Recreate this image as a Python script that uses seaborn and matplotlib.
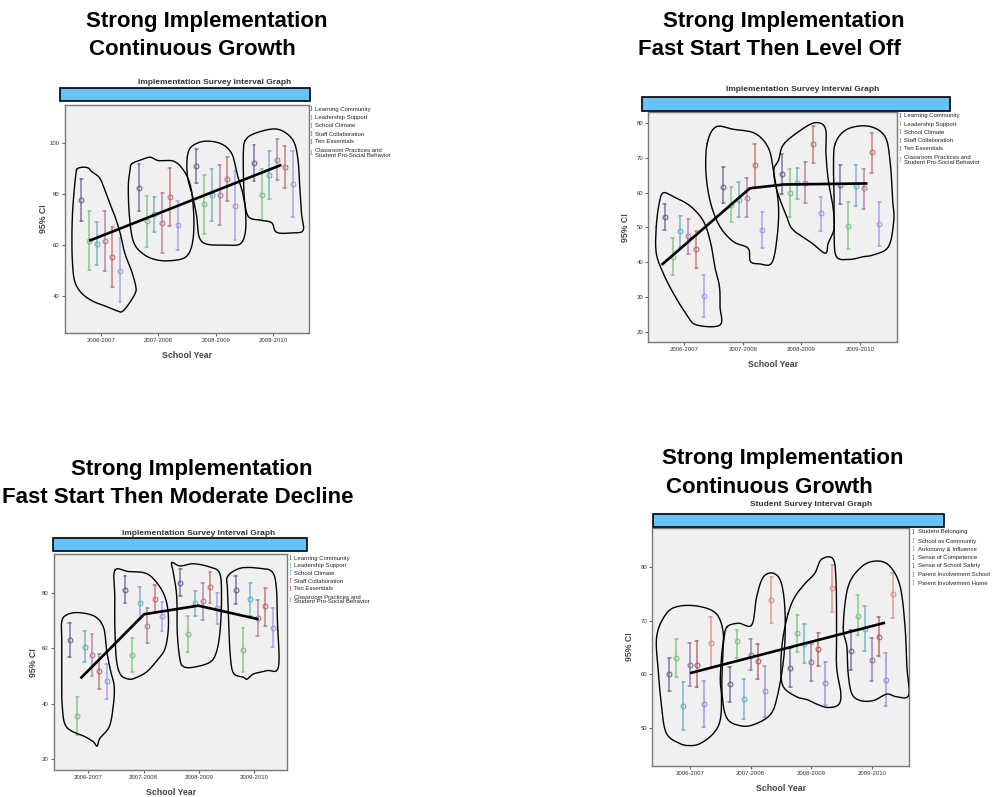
import numpy as np
import pandas as pd
import matplotlib
matplotlib.use("Agg")
import matplotlib.pyplot as plt
from matplotlib.patches import Rectangle
import seaborn as sns

sns.set_style("white")
plt.rcParams["font.family"] = ["Liberation Sans", "DejaVu Sans"]

# ---------------------------------------------------------------- data
years = ["2006-2007", "2007-2008", "2008-2009", "2009-2010"]

impl_measures = ["Learning Community", "Leadership Support", "School Climate",
                 "Staff Collaboration", "Ten Essentials",
                 "Classroom Practices and\nStudent Pro-Social Behavior"]
student_measures = ["Student Belonging", "School as Community",
                    "Autonomy & Influence", "Sense of Competence",
                    "Sense of School Safety", "Parent Involvement School",
                    "Parent Involvement Home"]

impl_colors = ["#6b6490", "#7cc27c", "#6aaec0", "#ad7aa0", "#c26c6c", "#9a9ae6"]
student_colors = ["#6b6490", "#7cc27c", "#6aaec0", "#8f70a2", "#b25c5c",
                  "#8e8ee2", "#e38a8a"]

# rows = measures, columns = school years
p1_mean = [[77.6, 82.4, 91.0, 92.2], [61.6, 69.3, 76.0, 79.7],
           [60.5, 72.4, 79.8, 87.6], [61.7, 68.6, 79.7, 93.6],
           [55.3, 78.9, 86.1, 90.6], [50.0, 67.7, 75.5, 84.1]]
p1_low = [[69.4, 73.2, 84.2, 85.0], [50.1, 59.1, 64.2, 69.8],
          [52.1, 65.0, 69.3, 78.1], [50.0, 57.0, 68.0, 85.7],
          [43.5, 67.6, 77.5, 82.4], [37.5, 58.1, 62.2, 71.1]]
p1_high = [[85.8, 91.8, 97.8, 99.2], [73.2, 79.2, 87.4, 89.7],
           [68.9, 78.8, 90.0, 97.0], [73.4, 80.5, 91.5, 101.6],
           [67.1, 90.2, 94.7, 98.8], [62.8, 77.5, 88.9, 97.1]]

p2_mean = [[53.0, 61.6, 65.4, 62.3], [41.5, 56.6, 59.9, 50.4],
           [48.9, 57.9, 62.7, 62.1], [47.5, 58.6, 62.9, 61.3],
           [43.8, 68.0, 74.0, 71.7], [30.3, 49.2, 54.1, 51.0]]
p2_low = [[49.3, 57.0, 59.7, 56.7], [36.2, 51.6, 53.0, 43.7],
          [44.5, 53.1, 58.1, 56.2], [42.4, 53.1, 57.0, 55.2],
          [38.4, 61.8, 68.7, 65.8], [24.3, 44.0, 49.1, 44.7]]
p2_high = [[56.7, 67.4, 71.1, 67.9], [46.9, 61.7, 66.8, 57.4],
           [53.2, 63.0, 67.2, 68.0], [52.4, 64.2, 68.8, 66.9],
           [49.1, 74.0, 79.2, 77.3], [36.2, 54.5, 58.9, 57.3]]

p3_mean = [[62.9, 81.2, 83.7, 81.1], [35.5, 57.6, 65.2, 59.3],
           [60.6, 76.4, 76.3, 77.7], [57.6, 68.2, 77.2, 71.1],
           [51.9, 77.7, 82.0, 75.1], [48.1, 71.5, 74.5, 67.5]]
p3_low = [[56.8, 76.3, 78.7, 76.0], [28.8, 51.5, 58.8, 51.4],
          [55.1, 70.7, 71.5, 71.8], [50.2, 61.9, 70.3, 64.5],
          [45.4, 72.7, 76.3, 68.1], [41.9, 66.1, 68.8, 60.4]]
p3_high = [[69.1, 86.1, 88.5, 86.1], [42.6, 63.8, 71.5, 67.3],
           [66.3, 82.3, 80.8, 83.5], [65.1, 74.6, 83.5, 77.5],
           [58.0, 82.9, 87.5, 81.7], [54.3, 76.6, 79.9, 74.5]]

p4_mean = [[60.0, 58.1, 61.2, 64.4], [63.1, 66.1, 67.6, 70.9],
           [54.1, 55.4, 65.7, 68.5], [61.8, 63.5, 62.3, 62.7],
           [61.8, 62.5, 64.7, 67.0], [54.4, 56.8, 58.3, 59.0],
           [65.9, 73.9, 76.0, 74.9]]
p4_low = [[56.9, 54.8, 57.7, 60.7], [59.5, 63.1, 64.2, 67.3],
          [49.6, 51.7, 62.0, 64.4], [57.8, 60.8, 58.8, 58.7],
          [57.7, 59.2, 61.6, 63.4], [50.1, 52.1, 54.3, 54.1],
          [61.2, 69.6, 71.6, 70.5]]
p4_high = [[63.1, 61.4, 64.8, 68.2], [66.5, 68.2, 71.1, 74.7],
           [58.5, 59.2, 69.3, 72.7], [65.9, 66.5, 65.7, 66.8],
           [66.1, 65.6, 67.6, 70.7], [58.7, 61.5, 62.3, 63.9],
           [70.7, 78.1, 80.4, 78.9]]

# hand-drawn trend lines (x = school-year index, y = score)
p1_trend = [(-0.20, 61.7), (3.14, 91.5)]
p2_trend = [(-0.39, 39.2), (1.12, 61.3), (1.70, 62.4), (3.13, 62.7)]
p3_trend = [(-0.14, 49.2), (1.01, 72.3), (1.99, 75.4), (3.08, 70.5)]
p4_trend = [(0.0, 60.2), (3.22, 69.6)]

# hand-drawn outlines grouping each school year
p1_blobs = [
    [(-0.405, 90.0), (-0.30, 90.6), (-0.21, 90.2), (-0.17, 89.1), (-0.10, 88.0),
     (-0.01, 86.1), (0.075, 81.5), (0.16, 76.3), (0.25, 71.1), (0.34, 64.6),
     (0.42, 56.8), (0.54, 49.6), (0.61, 43.8), (0.60, 41.1), (0.48, 36.6),
     (0.38, 34.0), (0.31, 34.0), (0.10, 35.9), (-0.13, 37.9), (-0.33, 41.1),
     (-0.45, 45.7), (-0.49, 52.9), (-0.50, 62.0), (-0.49, 72.4), (-0.46, 81.5),
     (-0.43, 88.0)],
    [(0.54, 91.9), (0.71, 93.5), (0.86, 94.5), (1.00, 93.2), (1.26, 93.0),
     (1.42, 90.0), (1.54, 84.8), (1.60, 77.6), (1.62, 67.2), (1.58, 59.4),
     (1.47, 55.2), (1.23, 53.9), (0.97, 54.2), (0.74, 56.5), (0.57, 61.3),
     (0.50, 71.1), (0.48, 82.8), (0.51, 89.3)],
    [(1.505, 94.5), (1.58, 98.7), (1.81, 100.8), (2.10, 99.7), (2.28, 95.8),
     (2.37, 88.0), (2.47, 80.2), (2.52, 72.4), (2.51, 64.6), (2.42, 60.4),
     (2.19, 60.0), (1.84, 60.4), (1.71, 63.3), (1.67, 71.1), (1.60, 78.9),
     (1.51, 86.7)],
    [(2.51, 101.0), (2.65, 103.6), (2.99, 105.6), (3.20, 104.3), (3.36, 100.4),
     (3.43, 93.2), (3.46, 82.8), (3.49, 72.4), (3.52, 65.9), (3.35, 64.8),
     (3.06, 65.0), (2.97, 68.8), (2.77, 69.8), (2.57, 71.1), (2.50, 77.6),
     (2.48, 88.0), (2.48, 97.1)],
]
p2_blobs = [
    [(-0.48, 50.2), (-0.43, 57.0), (-0.36, 60.0), (-0.19, 58.9), (0.10, 56.2),
     (0.33, 51.7), (0.45, 45.5), (0.52, 38.7), (0.60, 33.0), (0.61, 27.2),
     (0.61, 21.9), (0.21, 21.9), (0.04, 24.8), (-0.19, 31.1), (-0.36, 36.8),
     (-0.48, 42.6)],
    [(0.39, 74.2), (0.54, 79.0), (0.84, 78.3), (1.21, 77.1), (1.44, 72.8),
     (1.53, 65.6), (1.61, 56.0), (1.58, 46.4), (1.49, 39.7), (1.29, 39.5),
     (1.13, 40.2), (1.09, 44.0), (0.84, 45.9), (0.61, 50.2), (0.45, 57.0),
     (0.37, 65.6)],
    [(1.61, 69.4), (1.69, 73.8), (1.95, 77.6), (2.23, 80.2), (2.41, 78.6),
     (2.42, 71.4), (2.46, 63.7), (2.54, 56.0), (2.56, 49.8), (2.46, 45.5),
     (2.41, 42.6), (2.18, 45.5), (1.86, 49.3), (1.75, 53.1), (1.58, 60.8),
     (1.53, 66.6)],
    [(2.58, 74.2), (2.78, 78.3), (3.15, 79.2), (3.43, 76.2), (3.52, 68.5),
     (3.56, 57.9), (3.58, 52.2), (3.49, 44.5), (3.23, 42.1), (3.06, 41.6),
     (2.83, 40.8), (2.60, 41.6), (2.56, 48.3), (2.56, 57.9), (2.55, 67.5)],
]
p3_blobs = [
    [(-0.48, 69.7), (-0.39, 72.1), (-0.18, 72.9), (0.12, 71.5), (0.28, 67.3),
     (0.33, 59.4), (0.40, 52.2), (0.47, 46.2), (0.45, 39.0), (0.38, 31.8),
     (0.21, 27.6), (0.16, 24.8), (0.09, 26.4), (-0.06, 28.2), (-0.39, 31.6),
     (-0.47, 39.0), (-0.48, 51.0), (-0.48, 63.1)],
    [(0.48, 88.1), (0.72, 87.7), (1.06, 86.9), (1.29, 82.3), (1.42, 76.3),
     (1.45, 67.9), (1.39, 60.0), (1.24, 55.6), (1.06, 51.6), (0.88, 49.6),
     (0.75, 48.9), (0.59, 50.4), (0.51, 55.8), (0.48, 67.9), (0.48, 78.7)],
    [(1.51, 90.9), (1.66, 89.7), (1.90, 90.5), (2.20, 89.3), (2.38, 86.9),
     (2.41, 77.5), (2.38, 65.5), (2.31, 58.2), (2.19, 54.9), (1.90, 53.2),
     (1.73, 53.4), (1.66, 55.8), (1.61, 65.5), (1.60, 78.7), (1.54, 87.1)],
    [(2.52, 85.9), (2.75, 88.9), (3.08, 88.9), (3.32, 87.7), (3.40, 82.3),
     (3.42, 70.3), (3.44, 53.4), (3.23, 52.0), (2.99, 50.8), (2.87, 48.9),
     (2.81, 49.6), (2.63, 51.0), (2.57, 57.0), (2.54, 69.1), (2.52, 81.1)],
]
p4_blobs = [
    [(-0.55, 67.0), (-0.39, 71.3), (-0.17, 72.7), (0.17, 72.6), (0.44, 71.2),
     (0.55, 67.6), (0.52, 63.3), (0.50, 58.9), (0.52, 55.8), (0.50, 51.5),
     (0.39, 49.0), (0.17, 47.1), (0.0, 46.7), (-0.17, 47.1), (-0.39, 49.0),
     (-0.47, 54.0), (-0.52, 60.2)],
    [(0.61, 68.8), (0.80, 69.5), (1.02, 69.2), (1.10, 74.4), (1.21, 78.1),
     (1.38, 78.8), (1.51, 76.9), (1.57, 71.3), (1.55, 63.3), (1.44, 55.8),
     (1.32, 52.4), (1.05, 50.6), (0.83, 50.4), (0.61, 51.8), (0.53, 56.4),
     (0.54, 63.3), (0.56, 66.4)],
    [(1.62, 71.3), (1.73, 74.4), (1.90, 76.9), (2.06, 78.8), (2.17, 81.4),
     (2.36, 81.5), (2.41, 77.5), (2.42, 68.8), (2.42, 61.4), (2.49, 56.4),
     (2.45, 54.3), (2.28, 53.8), (2.12, 54.3), (1.95, 55.2), (1.76, 55.8),
     (1.54, 57.7), (1.50, 61.4), (1.53, 66.4)],
    [(2.53, 68.8), (2.61, 76.3), (2.83, 80.0), (3.08, 81.1), (3.30, 80.1),
     (3.47, 76.3), (3.55, 68.8), (3.58, 61.4), (3.61, 56.1), (3.41, 55.8),
     (3.25, 56.3), (3.03, 55.1), (2.81, 55.1), (2.67, 56.4), (2.61, 60.2),
     (2.59, 65.1)],
]

# ---------------------------------------------------------------- helpers
W, H = 1000, 797
fig = plt.figure(figsize=(W / 100, H / 100), dpi=100)


def fx(px):
    return px / W


def fy(py):
    return 1 - py / H


def closed_curve(points, n=10):
    """Smooth closed Catmull-Rom curve through the outline vertices."""
    p = np.asarray(points, dtype=float)
    m = len(p)
    t = np.linspace(0, 1, n, endpoint=False)[:, None]
    segs = []
    for i in range(m):
        p0, p1, p2, p3 = p[i - 1], p[i], p[(i + 1) % m], p[(i + 2) % m]
        segs.append(0.5 * (2 * p1 + (-p0 + p2) * t
                           + (2 * p0 - 5 * p1 + 4 * p2 - p3) * t ** 2
                           + (-p0 + 3 * p1 - 3 * p2 + p3) * t ** 3))
    c = np.vstack(segs)
    return np.vstack([c, c[:1]])


def long_frame(measures, mean, low, high):
    rows = []
    for mi, m in enumerate(measures):
        for yi, yr in enumerate(years):
            for v in (low[mi][yi], mean[mi][yi], high[mi][yi]):
                rows.append({"School Year": yr, "measure": m, "value": v})
    return pd.DataFrame(rows)


def draw_panel(box, measures, colors, mean, low, high, ylim, yticks, xlim,
               trend, blobs, dodge):
    l, t, r, b = box
    ax = fig.add_axes([fx(l), fy(b), fx(r - l), (b - t) / H])
    ax.set_facecolor("#f0f0f0")
    df = long_frame(measures, mean, low, high)
    sns.pointplot(data=df, x="School Year", y="value", hue="measure",
                  order=years, hue_order=measures, palette=colors,
                  estimator="median",
                  errorbar=lambda v: (v.min(), v.max()),
                  dodge=dodge, markers="o", linestyles="none",
                  capsize=0.05, markersize=3.4, markeredgewidth=0.9,
                  err_kws={"linewidth": 1.1, "alpha": 0.85},
                  legend=False, ax=ax)
    for ln in ax.lines:
        if ln.get_marker() == "o":
            ln.set_markerfacecolor("none")
            ln.set_alpha(0.9)
    for pts in blobs:
        c = closed_curve(pts)
        ax.plot(c[:, 0], c[:, 1], color="black", lw=1.0, zorder=5)
    tx, ty = zip(*trend)
    ax.plot(tx, ty, color="black", lw=1.9, zorder=6, solid_capstyle="butt")
    ax.set_xlim(*xlim)
    ax.set_ylim(*ylim)
    ax.set_yticks(yticks)
    ax.set_yticklabels([str(v) for v in yticks])
    ax.tick_params(axis="both", labelsize=4.3, labelcolor="#333333",
                   color="#666666", length=2.5, width=0.8, pad=1.2,
                   direction="out", left=True, bottom=True)
    for sp in ax.spines.values():
        sp.set_color("#7a7a7a")
        sp.set_linewidth(1.0)
    ax.set_xlabel("School Year", fontsize=6.3, fontweight="bold",
                  color="#444444", va="center")
    ax.set_ylabel("95% CI", fontsize=6.3, fontweight="bold",
                  color="#444444", va="center")
    ax.xaxis.set_label_coords(0.5, -22.5 / (b - t))
    ax.yaxis.set_label_coords(-0.09, 0.5)
    return ax


def header(line1, line2, c1, c2, base1, base2, sub, sub_c, sub_base, bar):
    kw = dict(fontsize=16, fontweight="bold", color="black", ha="center",
              va="baseline")
    fig.text(fx(c1), fy(base1), line1, **kw)
    fig.text(fx(c2), fy(base2), line2, **kw)
    fig.text(fx(sub_c), fy(sub_base), sub, fontsize=6, fontweight="bold",
             color="#333333", ha="center", va="baseline")
    bl, bt, br, bb = bar
    fig.add_artist(Rectangle((fx(bl), fy(bb)), fx(br - bl), (bb - bt) / H,
                             transform=fig.transFigure, facecolor="#66c2f7",
                             edgecolor="black", lw=1.2))


def legend(x_mark, x_text, ys, labels, colors):
    for yv, lab, col in zip(ys, labels, colors):
        fig.text(fx(x_mark), fy(yv), "I", family="DejaVu Serif", fontsize=5,
                 color=col, ha="center", va="center")
        fig.text(fx(x_text), fy(yv), lab, fontsize=4.3, color="#222222",
                 ha="left", va="center", linespacing=0.95)


# ---------------------------------------------------------------- panels
header("Strong Implementation", "Continuous Growth", 207, 192, 26.7, 55,
       "Implementation Survey Interval Graph", 215, 84.5, (60, 88, 310, 101))
draw_panel((65, 105, 309, 333), impl_measures, impl_colors,
           p1_mean, p1_low, p1_high, (25.5, 115), [40, 60, 80, 100],
           (-0.62, 3.62), p1_trend, p1_blobs, 0.67)
legend(310.7, 315.3, [109.3, 117.7, 125.7, 134, 141.7, 153],
       impl_measures, impl_colors)

header("Strong Implementation", "Fast Start Then Level Off", 783.7, 769.2,
       26.7, 55, "Implementation Survey Interval Graph", 803, 91,
       (641.7, 97, 949.7, 111.3))
draw_panel((648.3, 112, 897.3, 342.3), impl_measures, impl_colors,
           p2_mean, p2_low, p2_high, (16.9, 83.3), [20, 30, 40, 50, 60, 70, 80],
           (-0.616, 3.64), p2_trend, p2_blobs, 0.67)
legend(900, 904.3, [116, 124.3, 132.3, 140.7, 148.7, 160],
       impl_measures, impl_colors)

header("Strong Implementation", "Fast Start Then Moderate Decline", 191.7,
       178, 475, 503.3, "Implementation Survey Interval Graph", 198.7, 535,
       (53.3, 537.7, 307, 551.3))
draw_panel((54, 554.3, 287.3, 770), impl_measures, impl_colors,
           p3_mean, p3_low, p3_high, (16.2, 93.9), [20, 40, 60, 80],
           (-0.62, 3.60), p3_trend, p3_blobs, 0.67)
legend(290, 294, [558.3, 566, 573.3, 581.3, 589, 599.5],
       impl_measures, impl_colors)

header("Strong Implementation", "Continuous Growth", 783.2, 769.2, 464,
       492.7, "Student Survey Interval Graph", 811.3, 506,
       (653, 513.7, 944.3, 527.3))
draw_panel((652.3, 527.7, 909.3, 766), student_measures, student_colors,
           p4_mean, p4_low, p4_high, (42.9, 87.3), [50, 60, 70, 80],
           (-0.622, 3.62), p4_trend, p4_blobs, 0.69)
legend(913.3, 918.3, [532, 541, 549.3, 558, 566, 574.7, 583.3],
       student_measures, student_colors)

fig.savefig("out.png", dpi=100, facecolor="white")
